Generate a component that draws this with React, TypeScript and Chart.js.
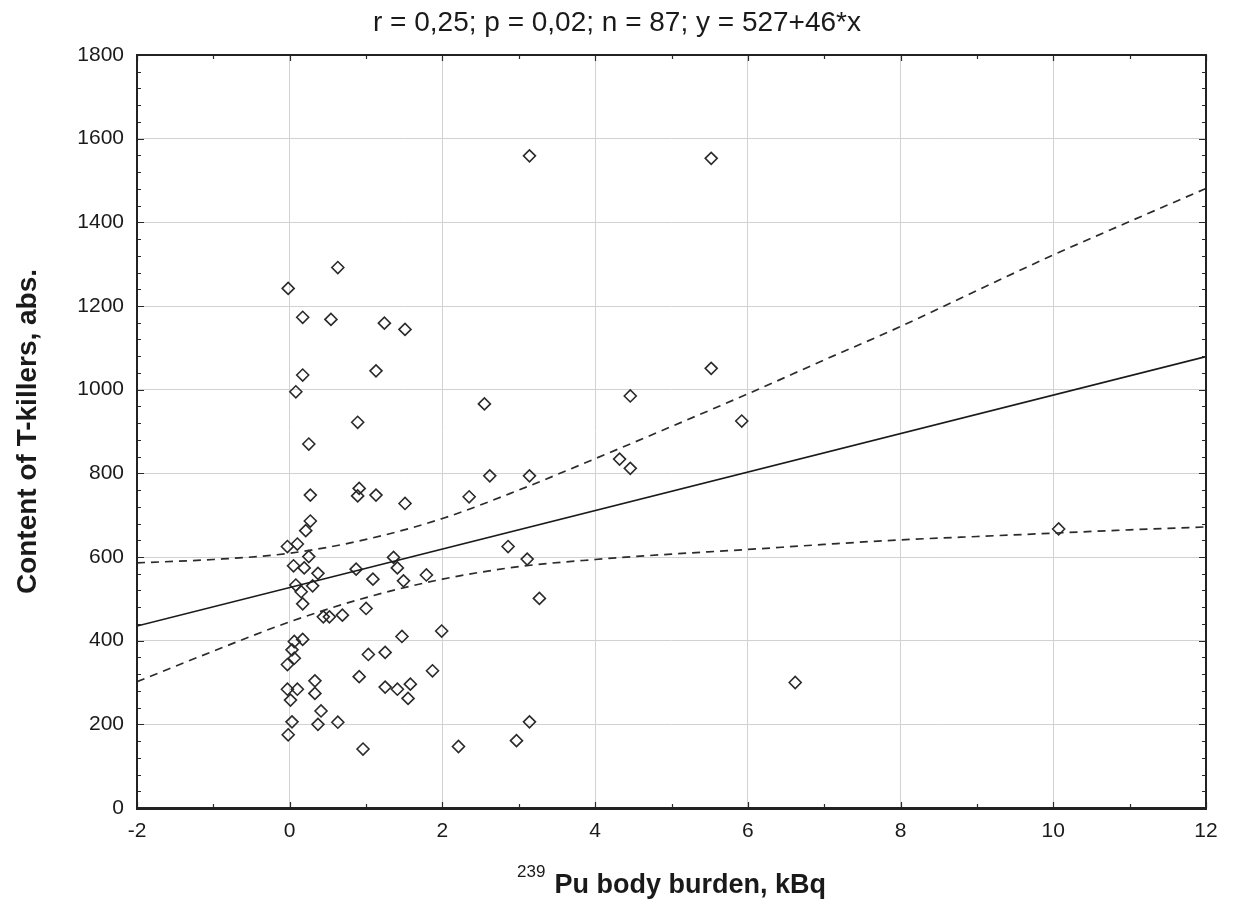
import { useEffect, useRef } from "react";
import { Chart, registerables } from "chart.js";

Chart.register(...registerables);

// ---- Data ----
const pointX = [
  3.14, 5.52, 0.63, -0.02, 0.17, 0.54, 1.24, 1.51, 0.17, 1.13, 0.08, 0.89, 0.25,
  5.52, 4.46, 2.55, 5.92, 4.32, 4.46, 2.62, 3.14, 2.35, 0.27, 0.91, 0.89, 1.13,
  1.51, 0.27, 0.21, 10.07, -0.03, 0.1, 0.25, 0.05, 0.19, 0.37, 1.36, 1.41, 0.87,
  2.86, 3.11, 0.08, 0.3, 0.15, 1.09, 1.49, 1.79, 3.27, 0.17, 0.44, 0.52, 0.69,
  1.0, 1.47, 1.99, 0.06, 0.17, 0.03, 0.06, -0.03, 1.03, 1.25, 0.91, 1.87, -0.03,
  0.1, 0.33, 0.33, 1.25, 1.41, 1.58, 1.55, 0.01, 0.41, 0.63, 0.37, 0.03, -0.02,
  0.96, 2.21, 6.62, 3.14, 2.97,
];
const pointY = [
  1559, 1553, 1292, 1242, 1173, 1168, 1159, 1144, 1035, 1045, 995, 922, 870,
  1051, 985, 966, 925, 834, 812, 794, 794, 744, 748, 764, 746, 748,
  728, 686, 663, 667, 625, 631, 601, 579, 574, 561, 599, 574, 571,
  625, 595, 533, 531, 517, 547, 543, 557, 501, 488, 457, 457, 461,
  477, 410, 423, 398, 403, 378, 358, 343, 367, 372, 314, 328, 284,
  284, 304, 274, 289, 284, 296, 262, 258, 232, 205, 200, 206, 175,
  141, 147, 300, 206, 161,
];

const fitX = [-2, 12];
const fitY = [435, 1079];

const bandX = [-2, -1, 0, 1, 2, 3, 4, 5, 6, 7, 8, 9, 10, 11, 12];
const bandUpper = [586, 594, 609, 642, 692, 760, 835, 912, 990, 1071, 1151, 1237, 1322, 1402, 1481];
const bandLower = [302, 375, 445, 503, 547, 577, 594, 607, 618, 630, 641, 649, 657, 665, 672];

const chartTitle = "r = 0,25; p = 0,02; n = 87; y = 527+46*x";
const xTitleSup = "239";
const xTitleMain = "Pu body burden, kBq";
const yTitle = "Content of T-killers, abs.";

const xMin = -2, xMax = 12, xStep = 2, xMinorStep = 1;
const yMin = 0, yMax = 1800, yStep = 200, yMinorStep = 40;

const SANS = '"Liberation Sans", Arial, sans-serif';

const framePlugin = {
  id: "frameTicks",
  afterDatasetsDraw(chart: any) {
    const { ctx, chartArea, scales } = chart;
    const { left, right, top, bottom } = chartArea;
    const xs = scales.x, ys = scales.y;
    ctx.save();
    ctx.strokeStyle = "#2a2a2a";
    ctx.lineWidth = 1.2;
    ctx.beginPath();
    for (let v = xMin; v <= xMax + 1e-9; v += xMinorStep) {
      const px = Math.round(xs.getPixelForValue(v)) + 0.5;
      const len = Math.abs(v % xStep) < 1e-9 ? 6 : 4;
      ctx.moveTo(px, bottom); ctx.lineTo(px, bottom - len);
      ctx.moveTo(px, top); ctx.lineTo(px, top + len);
    }
    for (let v = yMin; v <= yMax + 1e-9; v += yMinorStep) {
      const py = Math.round(ys.getPixelForValue(v)) + 0.5;
      const len = Math.abs(v % yStep) < 1e-9 ? 7 : 4;
      ctx.moveTo(left, py); ctx.lineTo(left + len, py);
      ctx.moveTo(right, py); ctx.lineTo(right - len, py);
    }
    ctx.stroke();
    ctx.lineWidth = 2;
    ctx.strokeStyle = "#222";
    ctx.strokeRect(left, top, right - left, bottom - top);
    ctx.lineWidth = 3;
    ctx.beginPath();
    ctx.moveTo(left - 1, bottom + 0.5); ctx.lineTo(right + 1, bottom + 0.5);
    ctx.stroke();
    ctx.restore();
  },
};

const xTitlePlugin = {
  id: "xTitleSup",
  afterDraw(chart: any) {
    const { ctx, chartArea } = chart;
    const cx = (chartArea.left + chartArea.right) / 2;
    const baseline = chartArea.bottom + 85;
    ctx.save();
    ctx.fillStyle = "#1a1a1a";
    ctx.textBaseline = "alphabetic";
    const mainFont = `bold 27px ${SANS}`;
    const supFont = `17px ${SANS}`;
    ctx.font = mainFont;
    const mainW = ctx.measureText(xTitleMain).width;
    ctx.font = supFont;
    const supW = ctx.measureText(xTitleSup).width;
    const gap = 9;
    const total = supW + gap + mainW;
    const start = cx - total / 2;
    ctx.textAlign = "left";
    ctx.fillText(xTitleSup, start, baseline - 16);
    ctx.font = mainFont;
    ctx.fillText(xTitleMain, start + supW + gap, baseline);
    ctx.restore();
  },
};

export default function App() {
  const canvasRef = useRef<HTMLCanvasElement | null>(null);

  useEffect(() => {
    document.body.style.margin = "0";
    const canvas = canvasRef.current;
    if (!canvas) return;

    const points = pointX.map((x, i) => ({ x, y: pointY[i] }));
    const fit = fitX.map((x, i) => ({ x, y: fitY[i] }));
    const upper = bandX.map((x, i) => ({ x, y: bandUpper[i] }));
    const lower = bandX.map((x, i) => ({ x, y: bandLower[i] }));

    const chart = new Chart(canvas, {
      type: "scatter",
      data: {
        datasets: [
          {
            label: "Upper band",
            data: upper,
            showLine: true,
            borderColor: "#2b2b2b",
            borderWidth: 1.7,
            borderDash: [8, 6],
            pointRadius: 0,
            cubicInterpolationMode: "monotone",
            fill: false,
          },
          {
            label: "Lower band",
            data: lower,
            showLine: true,
            borderColor: "#2b2b2b",
            borderWidth: 1.7,
            borderDash: [8, 6],
            pointRadius: 0,
            cubicInterpolationMode: "monotone",
            fill: false,
          },
          {
            label: "Fit",
            data: fit,
            showLine: true,
            borderColor: "#1a1a1a",
            borderWidth: 1.7,
            pointRadius: 0,
            fill: false,
          },
          {
            label: "Data",
            data: points,
            showLine: false,
            pointStyle: "rectRot",
            pointRadius: 6,
            pointBorderWidth: 1.6,
            pointBorderColor: "#2a2a2a",
            pointBackgroundColor: "rgba(0,0,0,0)",
          },
        ],
      },
      options: {
        responsive: false,
        animation: false,
        devicePixelRatio: 1,
        layout: { padding: { left: 0, right: 0, top: 0, bottom: 0 } },
        plugins: {
          legend: { display: false },
          tooltip: { enabled: false },
          title: {
            display: true,
            text: chartTitle,
            color: "#1a1a1a",
            font: { family: SANS, size: 28, weight: "normal" },
            padding: { top: 6, bottom: 15.4 },
          },
        },
        scales: {
          x: {
            type: "linear",
            min: xMin,
            max: xMax,
            afterFit: (scale: any) => { scale.height = 98; },
            ticks: {
              stepSize: xStep,
              color: "#1a1a1a",
              font: { family: SANS, size: 21 },
              padding: 11,
              maxRotation: 0,
              callback: (v: any) => String(v),
            },
            grid: { color: "#d2d2d2", lineWidth: 1, drawTicks: false },
            border: { display: false },
            title: { display: false },
          },
          y: {
            type: "linear",
            min: yMin,
            max: yMax,
            afterFit: (scale: any) => { scale.width = 137; },
            ticks: {
              stepSize: yStep,
              color: "#1a1a1a",
              font: { family: SANS, size: 21 },
              padding: 13,
              callback: (v: any) => String(v),
            },
            grid: { color: "#d2d2d2", lineWidth: 1, drawTicks: false },
            border: { display: false },
            title: {
              display: true,
              text: yTitle,
              color: "#1a1a1a",
              font: { family: SANS, size: 28, weight: "bold" },
              padding: { top: 11, bottom: 0 },
            },
          },
          yRight: {
            type: "linear",
            position: "right",
            display: true,
            afterFit: (scale: any) => { scale.width = 28; },
            ticks: { display: false },
            grid: { display: false, drawTicks: false },
            border: { display: false },
          },
        },
      },
      plugins: [framePlugin, xTitlePlugin],
    });

    return () => chart.destroy();
  }, []);

  return (
    <div style={{ width: 1234, height: 906, background: "#fff" }}>
      <canvas ref={canvasRef} width={1234} height={906} style={{ display: "block" }} />
    </div>
  );
}
